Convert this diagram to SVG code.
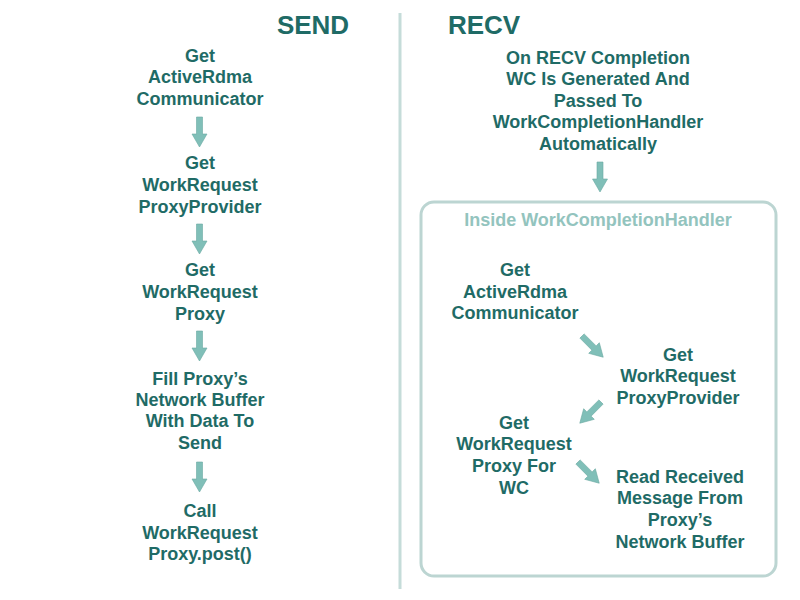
<svg xmlns="http://www.w3.org/2000/svg" width="800" height="600" viewBox="0 0 800 600">
<style>
.t{font-family:"Liberation Sans",Arial,sans-serif;font-weight:bold;font-size:18px;fill:#1f6b66;text-anchor:middle}
.h{font-family:"Liberation Sans",Arial,sans-serif;font-weight:bold;font-size:26px;fill:#1f6b66;text-anchor:middle}
.sub{fill:#93c4be}
.arr{fill:#80bfb8;stroke:#6aa9a2;stroke-width:0.6}
</style>
<defs>
<path id="a" class="arr" d="M-3,0 H3 V17 H7.5 L0,30 L-7.5,17 H-3 Z"/>
</defs>
<rect width="800" height="600" fill="#ffffff"/>
<line x1="400" y1="13" x2="400" y2="589" stroke="#c5dcd9" stroke-width="3"/>
<text class="h" x="313" y="34">SEND</text>
<text class="h" x="484" y="34">RECV</text>
<rect x="421" y="202" width="355" height="374" rx="13" fill="none" stroke="#bcd5d2" stroke-width="3"/>
<g id="s1"><text class="t" x="200" y="62">Get</text><text class="t" x="200" y="83">ActiveRdma</text><text class="t" x="200" y="105">Communicator</text></g>
<g id="s2"><text class="t" x="200" y="169">Get</text><text class="t" x="200" y="191">WorkRequest</text><text class="t" x="200" y="213">ProxyProvider</text></g>
<g id="s3"><text class="t" x="200" y="276">Get</text><text class="t" x="200" y="298">WorkRequest</text><text class="t" x="200" y="320">Proxy</text></g>
<g id="s4"><text class="t" x="200" y="385">Fill Proxy’s</text><text class="t" x="200" y="406">Network Buffer</text><text class="t" x="200" y="427">With Data To</text><text class="t" x="200" y="449">Send</text></g>
<g id="s5"><text class="t" x="200" y="517">Call</text><text class="t" x="200" y="539">WorkRequest</text><text class="t" x="200" y="560">Proxy.post()</text></g>
<g id="r0"><text class="t" x="598" y="64">On RECV Completion</text><text class="t" x="598" y="85">WC Is Generated And</text><text class="t" x="598" y="107">Passed To</text><text class="t" x="598" y="128">WorkCompletionHandler</text><text class="t" x="598" y="150">Automatically</text></g>
<g id="box"><text class="t sub" x="598" y="226">Inside WorkCompletionHandler</text></g>
<g id="r1"><text class="t" x="515" y="276">Get</text><text class="t" x="515" y="298">ActiveRdma</text><text class="t" x="515" y="319">Communicator</text></g>
<g id="r2"><text class="t" x="678" y="361">Get</text><text class="t" x="678" y="382">WorkRequest</text><text class="t" x="678" y="404">ProxyProvider</text></g>
<g id="r3"><text class="t" x="514" y="429">Get</text><text class="t" x="514" y="450">WorkRequest</text><text class="t" x="514" y="472">Proxy For</text><text class="t" x="514" y="494">WC</text></g>
<g id="r4"><text class="t" x="680" y="483">Read Received</text><text class="t" x="680" y="504">Message From</text><text class="t" x="680" y="526">Proxy’s</text><text class="t" x="680" y="548">Network Buffer</text></g>
<g id="connectors">
<use href="#a" transform="translate(199.5,117)"/>
<use href="#a" transform="translate(199.5,224)"/>
<use href="#a" transform="translate(199.5,331)"/>
<use href="#a" transform="translate(199.5,462)"/>
<use href="#a" transform="translate(600,162)"/>
<use href="#a" transform="translate(582,336) rotate(-45)"/>
<use href="#a" transform="translate(601,402) rotate(45)"/>
<use href="#a" transform="translate(578,462) rotate(-45)"/>
</g>
</svg>
